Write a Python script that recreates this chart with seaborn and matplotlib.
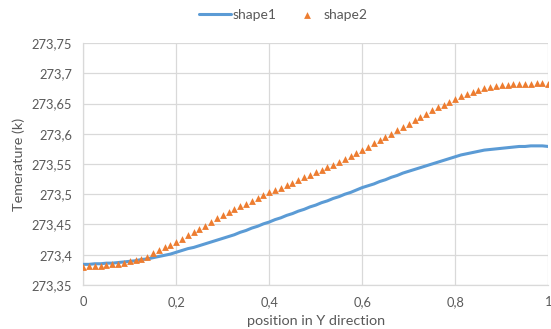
import numpy as np
import pandas as pd
import matplotlib
matplotlib.use("Agg")
import matplotlib.pyplot as plt
from matplotlib.ticker import FuncFormatter, MultipleLocator
import seaborn as sns

# position in Y direction (81 samples, step 0.0125)
position = [i / 80 for i in range(81)]

shape1 = [
    273.384, 273.384, 273.385, 273.385, 273.386, 273.386, 273.387, 273.388, 273.389, 273.390,
    273.392, 273.393, 273.395, 273.397, 273.399, 273.401, 273.404, 273.407, 273.410, 273.412,
    273.415, 273.418, 273.421, 273.424, 273.427, 273.430, 273.433, 273.437, 273.440, 273.444,
    273.447, 273.451, 273.454, 273.458, 273.461, 273.465, 273.468, 273.472, 273.475, 273.479,
    273.482, 273.486, 273.489, 273.493, 273.496, 273.500, 273.503, 273.507, 273.511, 273.514,
    273.517, 273.521, 273.524, 273.528, 273.531, 273.535, 273.538, 273.541, 273.544, 273.547,
    273.550, 273.553, 273.556, 273.559, 273.562, 273.565, 273.567, 273.569, 273.571, 273.573,
    273.574, 273.575, 273.576, 273.577, 273.578, 273.579, 273.579, 273.580, 273.580, 273.580,
    273.579,
]

shape2 = [
    273.380, 273.381, 273.381, 273.382, 273.383, 273.384, 273.385, 273.387, 273.389, 273.391,
    273.393, 273.396, 273.403, 273.407, 273.412, 273.416, 273.421, 273.426, 273.432, 273.437,
    273.443, 273.448, 273.454, 273.460, 273.466, 273.471, 273.475, 273.480, 273.484, 273.489,
    273.494, 273.498, 273.503, 273.507, 273.511, 273.515, 273.519, 273.524, 273.528, 273.532,
    273.536, 273.540, 273.545, 273.549, 273.554, 273.558, 273.563, 273.568, 273.573, 273.578,
    273.584, 273.589, 273.595, 273.600, 273.606, 273.611, 273.617, 273.622, 273.628, 273.633,
    273.639, 273.644, 273.648, 273.653, 273.658, 273.662, 273.666, 273.669, 273.672, 273.675,
    273.677, 273.679, 273.680, 273.681, 273.682, 273.682, 273.683, 273.683, 273.684, 273.684,
    273.683,
]

df = pd.DataFrame({"pos": position, "shape1": shape1, "shape2": shape2})

sns.set_theme(style="white")
plt.rcParams["font.family"] = ["Lato", "DejaVu Sans"]

grey = "#595959"
grid = "#d9d9d9"

fig = plt.figure(figsize=(5.51, 3.29), dpi=100)
ax = fig.add_axes([0.151, 0.134, 0.844, 0.735])

sns.lineplot(data=df, x="pos", y="shape1", ax=ax, color="#5B9BD5", linewidth=2.2,
             label="shape1", zorder=3)
sns.scatterplot(data=df, x="pos", y="shape2", ax=ax, color="#ED7D31", marker="^",
                s=24, linewidth=0, label="shape2", zorder=4)

ax.set_xlim(0, 1)
ax.set_ylim(273.35, 273.75)
ax.xaxis.set_major_locator(MultipleLocator(0.2))
ax.yaxis.set_major_locator(MultipleLocator(0.05))

comma = FuncFormatter(lambda v, p: ("%g" % round(v, 4)).replace(".", ","))
ax.xaxis.set_major_formatter(comma)
ax.yaxis.set_major_formatter(comma)

ax.grid(True, color=grid, linewidth=0.9)
ax.set_axisbelow(True)
for side in ["top", "right"]:
    ax.spines[side].set_visible(False)
for side in ["left", "bottom"]:
    ax.spines[side].set_color(grid)
    ax.spines[side].set_linewidth(0.9)

ax.tick_params(axis="both", length=0, colors=grey, labelsize=9.3, pad=8)
ax.set_xlabel("position in Y direction", color=grey, fontsize=10.4, labelpad=5)
ax.set_ylabel("Temerature (k)", color=grey, fontsize=10.4, labelpad=5)

handles, labels = ax.get_legend_handles_labels()
ax.get_legend().remove()
fig.legend(handles, labels, loc="center", bbox_to_anchor=(0.515, 0.955), ncol=2,
           frameon=False, fontsize=10, labelcolor=grey, columnspacing=1.0,
           handlelength=2.3, handletextpad=0.1)

fig.savefig("out.png", dpi=100)
